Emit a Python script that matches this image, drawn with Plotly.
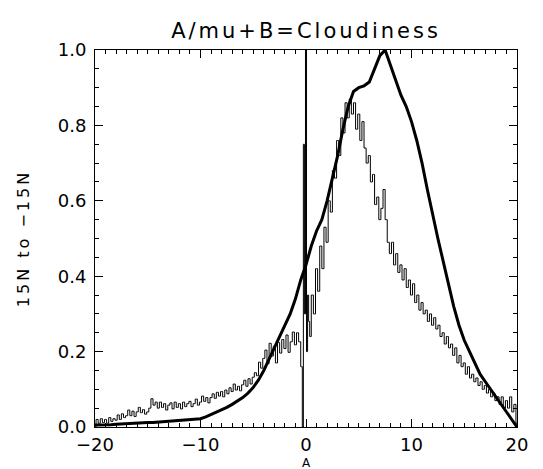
import numpy as np
import plotly.graph_objects as go

# ---- data ----
# thick (smooth) curve, A from -20 to 20 step 0.5
thick_a = np.arange(-20, 20.001, 0.5)
thick_v = [0.005, 0.005, 0.006, 0.006, 0.007, 0.008, 0.008, 0.009, 0.010, 0.011,
           0.012, 0.012, 0.013, 0.014, 0.014, 0.015, 0.016, 0.017, 0.018, 0.020,
           0.022, 0.027, 0.033, 0.039, 0.045, 0.052, 0.060, 0.068, 0.078, 0.090,
           0.105, 0.125, 0.150, 0.180, 0.210, 0.240, 0.270, 0.300, 0.340, 0.390,
           0.430, 0.480, 0.520, 0.550, 0.600, 0.660, 0.720, 0.790, 0.850, 0.890,
           0.900, 0.905, 0.915, 0.950, 0.985, 1.000, 0.960, 0.920, 0.880, 0.850,
           0.810, 0.760, 0.700, 0.630, 0.560, 0.500, 0.440, 0.380, 0.320, 0.270,
           0.230, 0.200, 0.170, 0.140, 0.120, 0.100, 0.080, 0.060, 0.040, 0.020,
           0.000]

# thin (noisy) curve: left part A=-20.0..-0.4 step 0.2
thin_left_a = np.round(np.arange(-20.0, -0.399, 0.2), 2)
thin_left_v = [0.000, 0.020, 0.010, 0.022, 0.012,
               0.020, 0.010, 0.025, 0.015, 0.022,
               0.018, 0.032, 0.020, 0.035, 0.025,
               0.030, 0.045, 0.030, 0.042, 0.028,
               0.040, 0.052, 0.038, 0.046, 0.034,
               0.040, 0.050, 0.075, 0.058, 0.066,
               0.050, 0.066, 0.052, 0.062, 0.045,
               0.058, 0.064, 0.048, 0.066, 0.052,
               0.062, 0.048, 0.066, 0.054, 0.062,
               0.068, 0.054, 0.062, 0.074, 0.058,
               0.066, 0.082, 0.068, 0.078, 0.064,
               0.078, 0.088, 0.076, 0.092, 0.082,
               0.094, 0.080, 0.098, 0.088, 0.104,
               0.094, 0.114, 0.098, 0.108, 0.096,
               0.112, 0.124, 0.108, 0.128, 0.114,
               0.132, 0.144, 0.136, 0.172, 0.156,
               0.182, 0.204, 0.168, 0.222, 0.188,
               0.214, 0.170, 0.224, 0.196, 0.232,
               0.208, 0.244, 0.198, 0.226, 0.252,
               0.218, 0.250, 0.226, 0.160]
# thin curve: spike region around A=0
thin_mid_a = [-0.3, -0.2, -0.1, 0.0, 0.1, 0.2, 0.3]
thin_mid_v = [0.000, 0.750, 0.300, 1.100, 0.200, 0.350, 0.280]
# thin curve: right part A=0.4..20.0 step 0.2
thin_right_a = np.round(np.arange(0.4, 20.001, 0.2), 2)
thin_right_v = [0.24, 0.35, 0.30,
                0.42, 0.36, 0.48, 0.42, 0.53,
                0.49, 0.60, 0.57, 0.68, 0.66,
                0.76, 0.72, 0.82, 0.78, 0.86,
                0.82, 0.87, 0.83, 0.86, 0.79,
                0.83, 0.76, 0.81, 0.74, 0.70,
                0.72, 0.65, 0.67, 0.59, 0.61,
                0.55, 0.58, 0.63, 0.55, 0.49,
                0.46, 0.49, 0.43, 0.46, 0.41,
                0.43, 0.39, 0.42, 0.37, 0.39,
                0.35, 0.38, 0.33, 0.35, 0.31,
                0.33, 0.30, 0.31, 0.28, 0.30,
                0.27, 0.29, 0.26, 0.27, 0.24,
                0.25, 0.22, 0.24, 0.21, 0.22,
                0.19, 0.21, 0.17, 0.19, 0.16,
                0.17, 0.14, 0.16, 0.13, 0.14,
                0.12, 0.13, 0.11, 0.12, 0.10,
                0.11, 0.09, 0.10, 0.08, 0.09,
                0.07, 0.08, 0.06, 0.08, 0.05,
                0.07, 0.05, 0.08, 0.04, 0.06,
                0.01]

x_tickvals = [-20, -10, 0, 10, 20]
x_ticklabels = ["\u221220", "\u221210", "0", "10", "20"]
y_tickvals = [0.0, 0.2, 0.4, 0.6, 0.8, 1.0]
y_ticklabels = ["0.0", "0.2", "0.4", "0.6", "0.8", "1.0"]

title_text = "A/mu+B=Cloudiness"
x_title = "A"
y_title = "15N to \u221215N"

thin_a = list(thin_left_a) + thin_mid_a + list(thin_right_a)
thin_v = thin_left_v + thin_mid_v + thin_right_v

FONT = "DejaVu Sans"
W, H = 543, 469
M_L, M_R, M_T, M_B = 87, 34, 42, 50
PLOT_H = H - M_T - M_B


def spaced(s, px):
    return f'<span style="letter-spacing:{px}px">{s}</span>'


fig = go.Figure()
fig.add_trace(go.Scatter(x=thin_a, y=thin_v, mode="lines",
                         line=dict(color="black", width=1, shape="hvh"),
                         showlegend=False, hoverinfo="skip"))
fig.add_trace(go.Scatter(x=thick_a, y=thick_v, mode="lines",
                         line=dict(color="black", width=3),
                         showlegend=False, hoverinfo="skip"))

axis_common = dict(showline=True, linecolor="black", linewidth=1, mirror="ticks",
                   ticks="inside", tickcolor="black", tickwidth=1, ticklen=8,
                   showgrid=False, zeroline=False, automargin=False,
                   tickfont=dict(family=FONT, size=18, color="black"))

fig.update_xaxes(range=[-20, 20], tickvals=x_tickvals, ticktext=x_ticklabels,
                 minor=dict(ticks="inside", dtick=1, ticklen=4, tickcolor="black"),
                 ticklabelstandoff=1,
                 **axis_common)
fig.update_yaxes(range=[0, 1], tickvals=y_tickvals, ticktext=y_ticklabels,
                 minor=dict(ticks="inside", dtick=0.05, ticklen=4, tickcolor="black"),
                 ticklabelstandoff=4,
                 title=dict(text=spaced(y_title, 3),
                            font=dict(family=FONT, size=16, color="black"),
                            standoff=24),
                 **axis_common)

# x-axis title placed as an annotation just above the bottom edge
fig.add_annotation(text=x_title, xref="paper", yref="paper", x=0.5,
                   y=-(455 - (H - M_B)) / PLOT_H, xanchor="center", yanchor="middle",
                   showarrow=False, font=dict(family=FONT, size=12, color="black"))

fig.update_layout(
    width=W, height=H,
    margin=dict(l=M_L, r=M_R, t=M_T, b=M_B),
    plot_bgcolor="white", paper_bgcolor="white",
    title=dict(text=spaced(title_text, 3), xref="paper", x=0.5, xanchor="center",
               y=1 - 23 / H, yanchor="middle",
               font=dict(family=FONT, size=21, color="black")),
)

fig.write_html("out.html")
